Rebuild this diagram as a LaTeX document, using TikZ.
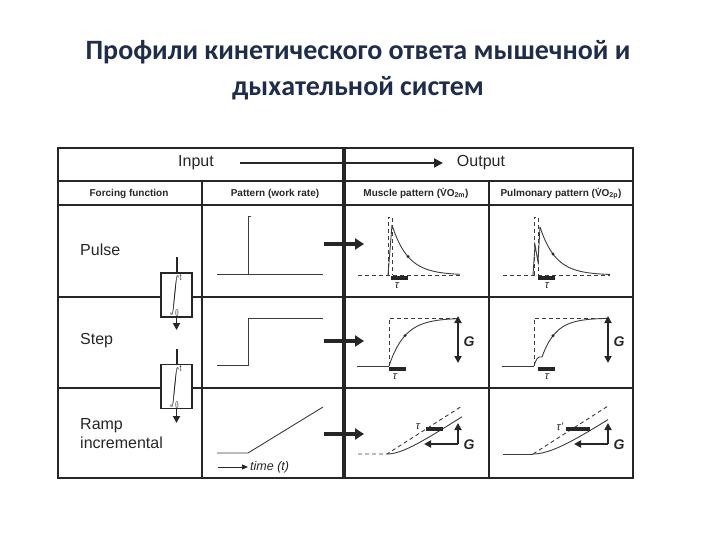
\documentclass[tikz,border=0pt]{standalone}
\usepackage{fontspec}
\setmainfont{Liberation Sans}
\newfontfamily\titlefont{Carlito}
\usetikzlibrary{arrows.meta}
\definecolor{titleblue}{HTML}{1F2D4A}
\definecolor{ink}{HTML}{262626}
\definecolor{wave}{HTML}{3C3C3C}
\begin{document}
\begin{tikzpicture}[x=1pt, y=-1pt,
  tline/.style={draw=ink, line width=2pt},
  outer/.style={draw=ink, line width=2.6pt},
  divider/.style={draw=ink, line width=3.6pt},
  title/.style={text=titleblue, align=center, inner sep=0pt,
                font=\titlefont\bfseries\fontsize{28}{36}\selectfont},
  io/.style={text=ink, inner sep=0pt, font=\fontsize{16}{18}\selectfont},
  head/.style={text=ink, inner sep=0pt, anchor=base, font=\bfseries\fontsize{10}{12}\selectfont},
  lbl/.style={text=ink, anchor=west, align=left, inner sep=0pt, font=\fontsize{16}{19}\selectfont},
  intbox/.style={draw=ink, fill=white, line width=1.8pt, minimum width=31pt,
                 minimum height=44pt, inner sep=0pt},
  arr/.style={-{Triangle[length=9pt, width=9pt]}, draw=ink, line width=1.8pt},
  bigarr/.style={-{Triangle[length=9pt, width=11pt]}, draw=ink, line width=3.4pt},
  gauge/.style={-{Triangle[length=7pt, width=7pt]}, draw=ink, line width=1.8pt},
  gauge2/.style={{Triangle[length=7pt, width=7pt]}-{Triangle[length=7pt, width=7pt]},
                 draw=ink, line width=1.8pt},
  trace/.style={draw=wave, line width=0.9pt},
  guide/.style={draw=wave, line width=0.9pt, dash pattern=on 4pt off 3pt},
  tauvar/.style={draw=ink, line width=4pt},
  sym/.style={text=ink, inner sep=0pt, font=\itshape\fontsize{11}{12}\selectfont},
  gain/.style={text=ink, inner sep=0pt, font=\bfseries\itshape\fontsize{14}{16}\selectfont},
  tdot/.style={circle, fill=ink, inner sep=0pt, minimum size=3.2pt}
]
\useasboundingbox (0,0) rectangle (720,540);

% Title
\node[title] (title) at (358,70) {Профили кинетического ответа мышечной и\\дыхательной систем};

% Table rules
\draw[tline] (58,181) -- (633,181);
\draw[tline] (58,205) -- (633,205);
\draw[tline] (58,297) -- (633,297);
\draw[tline] (58,388) -- (633,388);
\draw[tline] (202,181) -- (202,478);
\draw[tline] (489,181) -- (489,478);
\draw[divider] (344,148) -- (344,478);
\draw[outer] (58,148) rectangle (633,478);

% Input / Output header
\node[io] (input) at (196,163) {Input};
\node[io] (output) at (481,163) {Output};
\coordinate (ioa) at (240,163);
\coordinate (iob) at (443,163);
\draw[arr] (ioa) -- (iob);

% Column headers
\node[head] (hforce) at (129,196.5) {Forcing function};
\node[head] (hpat) at (275,196.5) {Pattern (work rate)};
\node[head] (hmus) at (416,196.5) {Muscle pattern (V̇O\textsubscript{2m})};
\node[head] (hpul) at (561,196.5) {Pulmonary pattern (V̇O\textsubscript{2p})};

% Row labels
\node[lbl] (pulse) at (80,250) {Pulse};
\node[lbl] (step) at (80,341) {Step};
\node[lbl] (ramp) at (80,434) {Ramp\\incremental};

% Integrators
\node[intbox] (int1) at (176.5,295) {\scalebox{0.9}[1.8]{\fontsize{8}{9}\selectfont$\displaystyle\int_0^t$}};
\node[intbox] (int2) at (176.5,386.5) {\scalebox{0.9}[1.8]{\fontsize{8}{9}\selectfont$\displaystyle\int_0^t$}};
\coordinate (int1in) at (176.5,257);
\coordinate (int1out) at (176.5,330);
\coordinate (int2in) at (176.5,349);
\coordinate (int2out) at (176.5,423);
\draw[tline] (int1in) -- (int1.north);
\draw[gauge] (int1.south) -- (int1out);
\draw[tline] (int2in) -- (int2.north);
\draw[gauge] (int2.south) -- (int2out);

% Work rate patterns
\draw[trace] (217,274) -- (323,274);
\draw[trace] (248,274) -- (248,216) -- (251,216);
\draw[trace] (217,365) -- (248,365) -- (248,318) -- (323,318);
\draw[trace] (217,453) -- (248,453) -- (323,407);
\coordinate (ta) at (218,467);
\coordinate (tb) at (248,467);
\draw[-{Triangle[length=6pt, width=5pt]}, draw=ink, line width=1pt] (ta) -- (tb);
\node[text=ink, anchor=west, inner sep=0pt, font=\itshape\fontsize{12.5}{14}\selectfont]
  (time) at (250,467) {time (t)};

% Row arrows across the divider
\coordinate (r1a) at (324,244);
\coordinate (r1b) at (364,244);
\coordinate (r2a) at (324,341);
\coordinate (r2b) at (364,341);
\coordinate (r3a) at (324,434);
\coordinate (r3b) at (364,434);
\draw[bigarr] (r1a) -- (r1b);
\draw[bigarr] (r2a) -- (r2b);
\draw[bigarr] (r3a) -- (r3b);

% Pulse: muscle
\draw[guide] (358,275) -- (463,275);
\draw[guide] (388,275) -- (388,217) -- (392,217) -- (392,275);
\draw[trace] (388,275) -- (392,225);
\draw[trace] plot[domain=392:460, samples=40] (\x, {275-50*exp(-(\x-392)/16)});
\node[tdot] (pm) at (408,256.6) {};
\draw[tauvar] (391,277.5) -- (408,277.5);
\node[sym] (taupm) at (397,286) {τ};

% Pulse: pulmonary
\draw[guide] (503,275) -- (610,275);
\draw[guide] (534,275) -- (534,217) -- (538,217) -- (538,275);
\draw[trace] (533,275) -- (535,245) -- (538,262) -- (540,227);
\draw[trace] plot[domain=540:610, samples=40] (\x, {275-48*exp(-(\x-540)/15.7)});
\node[tdot] (pp) at (553,254) {};
\draw[tauvar] (538,277.5) -- (555,277.5);
\node[sym] (taupp) at (547,286) {τ};

% Step: muscle
\draw[trace] (357,366) -- (389,366);
\draw[guide] (389,366) -- (389,318) -- (458,318);
\draw[trace] plot[domain=389:458, samples=40] (\x, {366-48*(1-exp(-(\x-389)/16))});
\node[tdot] (sm) at (405,335.6) {};
\draw[tauvar] (389,368.5) -- (406,368.5);
\node[sym] (tausm) at (395,377) {τ};
\coordinate (gsa) at (458,316);
\coordinate (gsb) at (458,363);
\draw[gauge2] (gsa) -- (gsb);
\node[gain] (gsm) at (469,342) {G};

% Step: pulmonary
\draw[trace] (502,366) -- (534,366);
\draw[guide] (534,366) -- (534,318) -- (607,318);
\draw[trace] (534,366) .. controls (536,359) and (538,356) .. (542,357);
\draw[trace] plot[domain=542:607, samples=40] (\x, {357-39*(1-exp(-(\x-542)/14))});
\node[tdot] (sp) at (553,335.8) {};
\draw[tauvar] (538,368.5) -- (555,368.5);
\node[sym] (tausp) at (547,377) {τ};
\coordinate (gpa) at (608,316);
\coordinate (gpb) at (608,363);
\draw[gauge2] (gpa) -- (gpb);
\node[gain] (gsp) at (619,342) {G};

% Ramp: muscle
\draw[guide] (358,454) -- (387,454) -- (462,406);
\draw[trace] plot[domain=387:462, samples=40]
  (\x, {454-0.64*((\x-387)-17*(1-exp(-(\x-387)/17)))});
\draw[tauvar] (426,429) -- (443,429);
\node[sym] (taurm) at (418,427) {τ};
\coordinate (grm) at (458,444);
\coordinate (grmu) at (458,423);
\coordinate (grml) at (424,444);
\draw[gauge] (grm) -- (grmu);
\draw[gauge] (grm) -- (grml);
\node[gain] (grmg) at (469,445) {G};

% Ramp: pulmonary
\draw[trace] (503,454) -- (533,454);
\draw[guide] (533,454) -- (608,406);
\draw[trace] plot[domain=533:608, samples=40]
  (\x, {454-0.64*((\x-533)-22*(1-exp(-(\x-533)/22)))});
\draw[tauvar] (566,429) -- (590,429);
\node[sym] (taurp) at (560,427) {τ'};
\coordinate (grp) at (608,444);
\coordinate (grpu) at (608,423);
\coordinate (grpl) at (574,444);
\draw[gauge] (grp) -- (grpu);
\draw[gauge] (grp) -- (grpl);
\node[gain] (grpg) at (619,445) {G};
\end{tikzpicture}
\end{document}
